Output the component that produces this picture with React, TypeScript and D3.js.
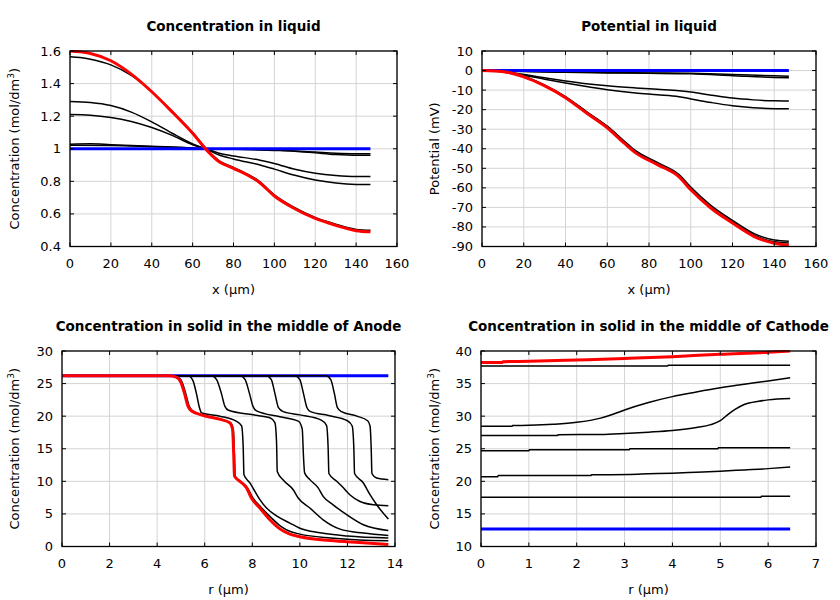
import React from "react";
import * as d3 from "d3";

type P = [number, number];

// ---------- Panel 1: Concentration in liquid ----------
const liqX = [0, 20, 40, 60, 80, 100, 120, 140, 160];
const liqY = [0.4, 0.6, 0.8, 1.0, 1.2, 1.4, 1.6];
const liqRed: P[] = [[0,1.6],[5,1.595],[10,1.585],[20,1.54],[30,1.458],[40,1.35],[50,1.226],[60,1.095],[67,0.99],[73,0.92],[80,0.88],[93,0.79],[100,0.71],[110,0.632],[120,0.572],[130,0.53],[140,0.497],[147,0.49]];
const liqB1: P[] = [[0,1.565],[5,1.56],[10,1.55],[20,1.515],[30,1.45],[40,1.35],[50,1.23],[60,1.1],[67,0.995],[73,0.926],[80,0.886],[93,0.797],[100,0.717],[110,0.638],[120,0.578],[130,0.537],[140,0.505],[147,0.5]];
const liqB2: P[] = [[0,1.29],[10,1.284],[20,1.265],[30,1.225],[40,1.165],[50,1.095],[60,1.03],[67,0.996],[73,0.962],[80,0.937],[93,0.9],[100,0.875],[110,0.837],[120,0.808],[130,0.79],[140,0.781],[147,0.78]];
const liqB3: P[] = [[0,1.21],[10,1.206],[20,1.192],[30,1.167],[40,1.13],[50,1.082],[60,1.025],[67,0.998],[73,0.972],[80,0.956],[93,0.93],[100,0.91],[110,0.874],[120,0.85],[130,0.836],[140,0.83],[147,0.83]];
const liqB4: P[] = [[0,1.028],[10,1.03],[20,1.025],[40,1.015],[60,1.005],[67,1.0],[80,0.997],[100,0.99],[110,0.985],[120,0.975],[130,0.965],[140,0.96],[147,0.96]];
const liqB5: P[] = [[0,1.022],[20,1.02],[40,1.012],[60,1.003],[67,1.0],[80,0.998],[100,0.993],[120,0.98],[130,0.973],[140,0.97],[147,0.97]];
const liqBlue: P[] = [[0,1.0],[147,1.0]];

// ---------- Panel 2: Potential in liquid ----------
const potX = [0, 20, 40, 60, 80, 100, 120, 140, 160];
const potY = [-90, -80, -70, -60, -50, -40, -30, -20, -10, 0, 10];
const potRed: P[] = [[0,0],[10.4,-0.6],[20,-3.2],[29.6,-7.6],[40,-13.9],[50.4,-22],[60,-29.3],[68,-37],[73.6,-42.1],[84,-48.1],[94.4,-54.4],[100,-61],[109.6,-70.3],[120,-78],[130.4,-84.9],[140,-88.3],[147,-89.3]];
const potB1: P[] = [[0,0],[10.4,-0.5],[20,-2.9],[29.6,-7.2],[40,-13.3],[50.4,-21.2],[60,-28.4],[68,-35.9],[73.6,-41.0],[84,-47.0],[94.4,-53.2],[100,-59.6],[109.6,-68.9],[120,-76.6],[130.4,-83.4],[140,-86.7],[147,-87.3]];
const potB2: P[] = [[0,0],[10.4,-0.55],[20,-3.0],[29.6,-7.4],[40,-13.6],[50.4,-21.6],[60,-28.8],[68,-36.4],[73.6,-41.5],[84,-47.5],[94.4,-53.8],[100,-60.3],[109.6,-69.6],[120,-77.3],[130.4,-84.2],[140,-87.6],[147,-88.2]];
const potB3: P[] = [[0,0],[20,-0.4],[40,-0.8],[60,-1.0],[80,-1.2],[100,-1.4],[120,-2.0],[140,-2.7],[147,-2.9]];
const potB4: P[] = [[0,0],[20,-0.5],[40,-0.9],[60,-1.2],[80,-1.4],[100,-1.7],[120,-2.6],[140,-3.5],[147,-3.7]];
const potB5: P[] = [[0,0],[10,-0.6],[20,-2.0],[30,-3.7],[40,-5.3],[50,-6.7],[60,-7.8],[73.6,-8.9],[84,-9.6],[94.4,-10.3],[100,-11.0],[110,-12.6],[120,-14.1],[130,-15.0],[140,-15.5],[147,-15.6]];
const potB6: P[] = [[0,0],[10,-0.7],[20,-2.4],[30,-4.4],[40,-6.4],[50,-8.2],[60,-9.8],[73.6,-11.5],[84,-12.4],[94.4,-13.4],[100,-14.5],[110,-16.4],[120,-18.0],[130,-19.0],[140,-19.5],[147,-19.6]];
const potBlue: P[] = [[0,0],[147,0]];

// ---------- Panel 3: Anode solid ----------
const anX = [0, 2, 4, 6, 8, 10, 12, 14];
const anY = [0, 5, 10, 15, 20, 25, 30];
const anRed: P[] = [[0,26.2],[4.5,26.2],[4.8,26.0],[5.0,25.2],[5.15,23.5],[5.3,21.5],[5.45,20.8],[5.95,20.1],[6.65,19.5],[7.05,19.0],[7.17,18.0],[7.22,14.0],[7.25,10.8],[7.48,10.0],[7.76,9.0],[7.97,7.4],[8.32,5.9],[8.74,4.1],[9.16,2.7],[9.58,1.9],[10.0,1.5],[11.27,0.92],[12.5,0.6],[13.72,0.31]];
const anB0: P[] = [[0,26.2],[4.55,26.2],[4.85,26.0],[5.05,25.2],[5.2,23.5],[5.35,21.5],[5.5,20.8],[6.0,20.1],[6.7,19.5],[7.08,19.0],[7.2,18.0],[7.25,14.0],[7.28,10.8],[7.5,10.0],[7.8,9.0],[8.0,7.6],[8.35,6.1],[8.8,4.4],[9.2,3.1],[9.6,2.3],[10.0,1.9],[11.3,1.3],[12.5,1.0],[13.72,0.88]];
const anB1: P[] = [[0,26.2],[5.3,26.2],[5.5,25.5],[5.65,23.5],[5.78,21.3],[5.87,20.5],[6.64,20.0],[7.34,19.2],[7.55,18.5],[7.62,15],[7.65,11.0],[7.9,9.75],[8.11,8.46],[8.32,7.2],[8.6,5.9],[9.02,4.7],[9.58,3.6],[10.0,2.8],[10.85,2.1],[12,1.6],[13.72,1.29]];
const anB2: P[] = [[0,26.2],[6.3,26.2],[6.5,25.6],[6.7,23.5],[6.85,21.5],[7.0,20.9],[8.04,20.2],[8.74,19.75],[8.95,19.0],[9.02,16],[9.05,11.5],[9.3,10.2],[9.72,8.7],[9.93,7.45],[10.42,5.9],[10.98,4.1],[11.69,2.67],[12.67,2.06],[13.72,1.7]];
const anB3: P[] = [[0,26.2],[7.5,26.2],[7.7,25.6],[7.88,23.5],[8.03,21.5],[8.18,20.8],[9.16,19.9],[9.95,19.2],[10.1,18.0],[10.15,14],[10.2,11.3],[10.42,10.26],[10.77,9.0],[10.98,7.7],[11.4,6.4],[11.97,4.88],[12.67,3.34],[13.72,2.46]];
const anB4: P[] = [[0,26.2],[8.6,26.2],[8.8,25.6],[8.95,23.5],[9.1,21.3],[9.3,20.7],[10.0,20.2],[10.9,19.4],[11.12,18.6],[11.19,15],[11.22,11.2],[11.55,10.0],[11.83,9.0],[12.1,7.95],[12.53,6.9],[13.09,6.4],[13.72,6.26]];
const anB5: P[] = [[0,26.2],[9.8,26.2],[10.0,25.6],[10.15,23.5],[10.3,21.3],[10.45,20.7],[11.2,20.1],[12.0,19.3],[12.2,18.5],[12.27,15],[12.3,11.2],[12.67,9.75],[12.95,7.95],[13.23,6.4],[13.72,4.2]];
const anB6: P[] = [[0,26.2],[11.1,26.2],[11.3,25.6],[11.45,23.5],[11.58,21.3],[11.75,20.7],[12.4,20.0],[12.85,19.3],[12.95,18.5],[13.0,15],[13.03,11.2],[13.23,10.5],[13.72,10.26]];
const anBlue: P[] = [[0,26.2],[13.72,26.2]];

// ---------- Panel 4: Cathode solid ----------
const caX = [0, 1, 2, 3, 4, 5, 6, 7];
const caY = [10, 15, 20, 25, 30, 35, 40];
const caRed: P[] = [[0,38.25],[0.45,38.25],[0.46,38.35],[1,38.42],[2,38.62],[3,38.85],[4,39.13],[5,39.5],[6,39.8],[6.46,40.0]];
const caB1: P[] = [[0,37.7],[3.9,37.7],[3.91,37.8],[6.46,37.8]];
const caB2: P[] = [[0,28.45],[0.65,28.45],[0.66,28.55],[1.0,28.6],[1.5,28.75],[2.0,29.05],[2.5,29.7],[2.8,30.4],[3.0,30.95],[3.5,32.1],[4.0,33.0],[4.5,33.7],[5.0,34.35],[5.5,34.9],[6.0,35.4],[6.46,35.9]];
const caB3: P[] = [[0,27.05],[1.6,27.05],[1.61,27.15],[2.5,27.2],[3.0,27.35],[3.5,27.55],[4.0,27.8],[4.5,28.25],[4.8,28.7],[5.0,29.3],[5.15,30.2],[5.3,31.0],[5.5,31.8],[5.8,32.3],[6.0,32.5],[6.46,32.7]];
const caB4: P[] = [[0,24.7],[1.0,24.7],[1.01,24.85],[3.1,24.85],[3.11,25.0],[4.95,25.0],[4.96,25.15],[6.46,25.15]];
const caB5: P[] = [[0,20.7],[0.35,20.7],[0.36,20.9],[2.3,20.9],[2.31,21.0],[3.1,21.05],[3.5,21.15],[4.0,21.25],[4.5,21.4],[5.0,21.55],[5.5,21.75],[6.0,21.95],[6.46,22.2]];
const caB6: P[] = [[0,17.55],[5.85,17.55],[5.86,17.7],[6.46,17.7]];
const caBlue: P[] = [[0,12.7],[6.46,12.7]];

const FONT = "DejaVu Sans, sans-serif";

interface Series { data: P[]; color: string; width: number; }
interface PanelProps {
  left: number; right: number; top: number; bottom: number;
  xTicks: number[]; yTicks: number[];
  title: string; xlabel: string; ylabel: React.ReactNode; ylabelX: number;
  series: Series[];
}

function Panel(p: PanelProps) {
  const x = d3.scaleLinear().domain([p.xTicks[0], p.xTicks[p.xTicks.length - 1]]).range([p.left, p.right]);
  const y = d3.scaleLinear().domain([p.yTicks[0], p.yTicks[p.yTicks.length - 1]]).range([p.bottom, p.top]);
  const line = d3.line<P>().x(d => x(d[0])).y(d => y(d[1])).curve(d3.curveMonotoneX);
  const tl = 4;
  const cx = (p.left + p.right) / 2;
  const cy = (p.top + p.bottom) / 2;
  const fmt = (v: number) => String(+v.toFixed(2));
  const cid = "clip" + p.left + "_" + p.top;
  return (
    <g>
      {p.xTicks.map(t => (
        <line key={"gx" + t} x1={x(t)} x2={x(t)} y1={p.top} y2={p.bottom} stroke="#d4d4d4" strokeWidth={1} />
      ))}
      {p.yTicks.map(t => (
        <line key={"gy" + t} x1={p.left} x2={p.right} y1={y(t)} y2={y(t)} stroke="#d4d4d4" strokeWidth={1} />
      ))}
      <defs>
        <clipPath id={cid}>
          <rect x={p.left - 6} y={p.top - 1} width={p.right - p.left + 7} height={p.bottom - p.top + 2} />
        </clipPath>
      </defs>
      <g clipPath={`url(#${cid})`}>
        {p.series.map((s, i) => (
          <path key={i} d={line(s.data) || ""} fill="none" stroke={s.color} strokeWidth={s.width} strokeLinejoin="round" strokeLinecap="butt" />
        ))}
      </g>
      {p.xTicks.map(t => (
        <g key={"tx" + t}>
          <line x1={x(t)} x2={x(t)} y1={p.bottom} y2={p.bottom - tl} stroke="#000" />
          <line x1={x(t)} x2={x(t)} y1={p.top} y2={p.top + tl} stroke="#000" />
          <text x={x(t)} y={p.bottom + 21} textAnchor="middle" fontSize={13} fontFamily={FONT}>{fmt(t)}</text>
        </g>
      ))}
      {p.yTicks.map(t => (
        <g key={"ty" + t}>
          <line x1={p.left} x2={p.left + tl} y1={y(t)} y2={y(t)} stroke="#000" />
          <line x1={p.right} x2={p.right - tl} y1={y(t)} y2={y(t)} stroke="#000" />
          <text x={p.left - 9} y={y(t) + 4.5} textAnchor="end" fontSize={13} fontFamily={FONT}>{fmt(t)}</text>
        </g>
      ))}
      <rect x={p.left} y={p.top} width={p.right - p.left} height={p.bottom - p.top} fill="none" stroke="#000" strokeWidth={1.3} />
      <text x={cx} y={p.top - 20.5} textAnchor="middle" fontSize={13.5} fontWeight="bold" fontFamily={FONT}>{p.title}</text>
      <text x={cx} y={p.bottom + 47} textAnchor="middle" fontSize={13} fontFamily={FONT}>{p.xlabel}</text>
      <text transform={`translate(${p.ylabelX},${cy}) rotate(-90)`} textAnchor="middle" fontSize={13} fontFamily={FONT}>{p.ylabel}</text>
    </g>
  );
}

const concLabel = (
  <>
    Concentration (mol/dm<tspan fontSize={9} dy={-5}>3</tspan><tspan dy={5}>)</tspan>
  </>
);

export default function App() {
  const blk = (d: P[]): Series => ({ data: d, color: "#000", width: 1.5 });
  const red = (d: P[]): Series => ({ data: d, color: "#ff0000", width: 3 });
  const blue = (d: P[]): Series => ({ data: d, color: "#0000ff", width: 3 });
  return (
    <svg width={840} height={600} style={{ position: "absolute", left: 0, top: 0, background: "#fff" }}>
      <rect x={0} y={0} width={840} height={600} fill="#fff" />
      <Panel left={70} right={397} top={51} bottom={246.5} xTicks={liqX} yTicks={liqY}
        title="Concentration in liquid" xlabel="x (µm)" ylabel={concLabel} ylabelX={19}
        series={[blk(liqB1), blk(liqB2), blk(liqB3), blk(liqB4), blk(liqB5), blue(liqBlue), red(liqRed)]} />
      <Panel left={482} right={816} top={51} bottom={246.5} xTicks={potX} yTicks={potY}
        title="Potential in liquid" xlabel="x (µm)" ylabel="Potential (mV)" ylabelX={439}
        series={[blk(potB1), blk(potB2), blk(potB3), blk(potB4), blk(potB5), blk(potB6), blue(potBlue), red(potRed)]} />
      <Panel left={62} right={395} top={351} bottom={546.5} xTicks={anX} yTicks={anY}
        title="Concentration in solid in the middle of Anode" xlabel="r (µm)" ylabel={concLabel} ylabelX={19}
        series={[blue(anBlue), blk(anB0), blk(anB1), blk(anB2), blk(anB3), blk(anB4), blk(anB5), blk(anB6), red(anRed)]} />
      <Panel left={481} right={816} top={351} bottom={546.5} xTicks={caX} yTicks={caY}
        title="Concentration in solid in the middle of Cathode" xlabel="r (µm)" ylabel={concLabel} ylabelX={439}
        series={[blk(caB1), blk(caB2), blk(caB3), blk(caB4), blk(caB5), blk(caB6), blue(caBlue), red(caRed)]} />
    </svg>
  );
}
